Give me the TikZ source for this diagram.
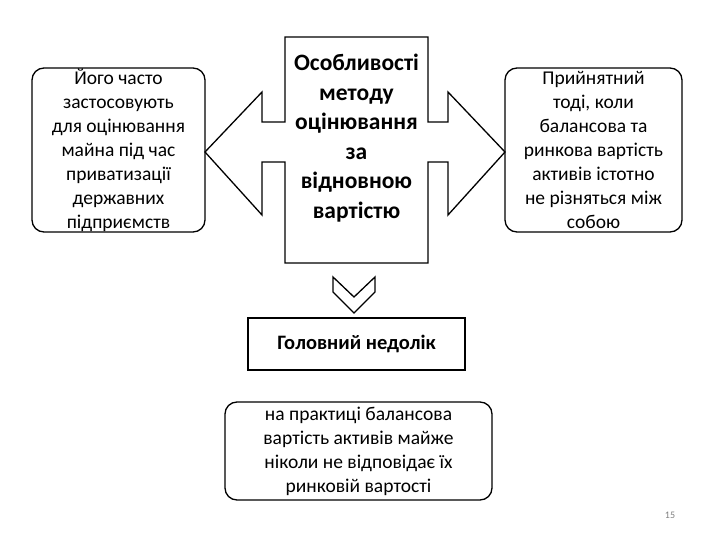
\documentclass[tikz,border=0pt]{standalone}
\usepackage{fontspec}
\setmainfont{Carlito}
\begin{document}
\begin{tikzpicture}[x=1pt,y=-1pt,
  rbox/.style={draw,line width=1.3pt,rounded corners=12pt,align=center,inner sep=2pt},
  txt/.style={align=center,font=\fontsize{19.5}{24}\selectfont},
  shp/.style={draw,line width=1.3pt,fill=white}]
\useasboundingbox (0,0) rectangle (720,540);
\draw[rbox] (32,68) rectangle (205,232);
\node[txt] (l) at (118.5,150) {Його часто\\застосовують\\для оцінювання\\майна під час\\приватизації\\державних\\підприємств};
\draw[rbox] (505,68) rectangle (682,232);
\node[txt] (r) at (593.5,150) {Прийнятний\\тоді, коли\\балансова та\\ринкова вартість\\активів істотно\\не різняться між\\собою};
\draw[shp] (285,37) -- (428,37) -- (428,122) -- (448,122) -- (448,92) -- (505,152) -- (448,215) -- (448,162) -- (428,162) -- (428,263) -- (285,263) -- (285,162) -- (262,162) -- (262,215) -- (205,152) -- (262,92) -- (262,122) -- (285,122) -- cycle;
\node[align=center,font=\bfseries\fontsize{23.5}{29.5}\selectfont] (c) at (356.5,138) {Особливості\\методу\\оцінювання\\за\\відновною\\вартістю};
\draw[shp] (333,277) -- (354,297) -- (375,277) -- (375,292) -- (354,313) -- (333,292) -- cycle;
\node[draw,line width=1.3pt,minimum width=217pt,minimum height=52pt,font=\bfseries\fontsize{20.5}{24}\selectfont] (h) at (356.5,344) {Головний недолік};
\draw[rbox] (225,402) rectangle (492,500);
\node[txt] (b) at (358.5,451) {на практиці балансова\\вартість активів майже\\ніколи не відповідає їх\\ринковій вартості};
\node[font=\fontsize{10}{12}\selectfont,text=gray] (p) at (670,515) {15};
\end{tikzpicture}
\end{document}
